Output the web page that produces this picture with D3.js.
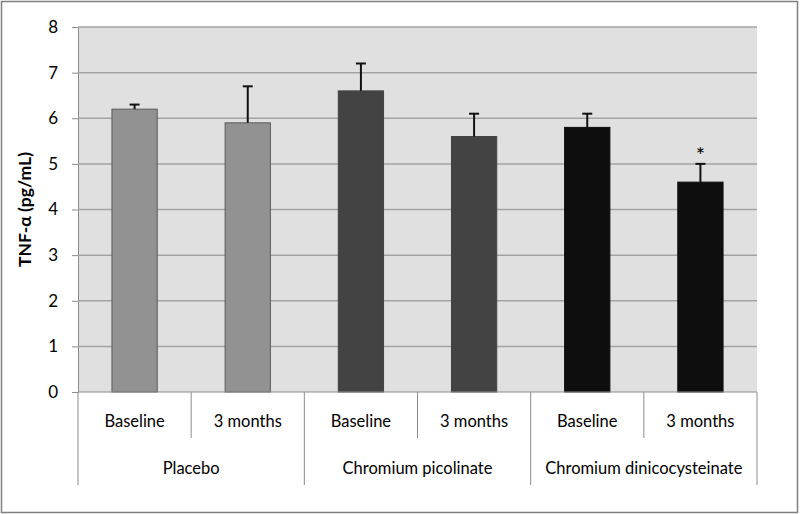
<!DOCTYPE html>
<html><head><meta charset="utf-8">
<script src="https://cdn.jsdelivr.net/npm/d3@7"></script>
<style>body{margin:0;background:#fff}svg{display:block}</style>
</head><body><svg id="c" width="800" height="514"></svg>
<script>
const groups = ["Placebo", "Chromium picolinate", "Chromium dinicocysteinate"];
const subcats = ["Baseline", "3 months"];
const values = [6.2, 5.9, 6.6, 5.6, 5.8, 4.6];
const errors = [0.1, 0.8, 0.6, 0.5, 0.3, 0.4];
const groupColors = ["#929292", "#434343", "#0e0e0e"];
const yTicks = [0, 1, 2, 3, 4, 5, 6, 7, 8];
const marks = ["", "", "", "", "", "*"];

const font = "Lato, 'Open Sans', sans-serif";
const svg = d3.select("#c");
const L = 78, R = 757, T = 27, B = 392;
const items = [];
groups.forEach((g, gi) => subcats.forEach((s, si) => items.push({g, gi, s, i: gi * 2 + si})));

svg.append("rect").attr("x", 1.5).attr("y", 1.5).attr("width", 796).attr("height", 511)
  .attr("fill", "#fff").attr("stroke", "#7f7f7f").attr("stroke-width", 1.5);

const x = d3.scaleBand().domain(items.map(d => d.i)).range([L, R]).paddingInner(0.6).paddingOuter(0.3);
const xs = d3.scaleBand().domain(items.map(d => d.i)).range([L, R]);
const y = d3.scaleLinear().domain([0, 8]).range([B, T]);

svg.append("rect").attr("x", L).attr("y", T).attr("width", R - L).attr("height", B - T).attr("fill", "#e0e0e0");

const ya = svg.append("g").attr("transform", `translate(${L},0)`)
  .call(d3.axisLeft(y).tickValues(yTicks).tickSize(6).tickSizeOuter(0).tickPadding(14));
ya.select(".domain").attr("stroke", "#8c8c8c");
ya.selectAll(".tick line").attr("stroke", "#8c8c8c");
ya.selectAll(".tick text").attr("font-family", font).attr("font-size", 17).attr("fill", "#000");
svg.append("g").selectAll("line").data(yTicks.filter(t => t > 0)).join("line")
  .attr("x1", L).attr("x2", R).attr("y1", d => y(d)).attr("y2", d => y(d))
  .attr("stroke", "#a3a3a3").attr("stroke-width", 1.5);

svg.append("g").selectAll("rect").data(items).join("rect")
  .attr("x", d => x(d.i)).attr("width", x.bandwidth())
  .attr("y", d => y(values[d.i])).attr("height", d => B - y(values[d.i]))
  .attr("fill", d => groupColors[d.gi])
  .attr("stroke", d => d.gi === 0 ? "#5a5a5a" : groupColors[d.gi]).attr("stroke-width", 1);

const eb = svg.append("g").attr("stroke", "#111").attr("stroke-width", 2);
items.forEach(d => {
  const cx = x(d.i) + x.bandwidth() / 2;
  const top = y(values[d.i] + errors[d.i]);
  eb.append("line").attr("x1", cx).attr("x2", cx).attr("y1", y(values[d.i])).attr("y2", top);
  eb.append("line").attr("x1", cx - 5).attr("x2", cx + 5).attr("y1", top).attr("y2", top);
});
svg.append("g").selectAll("text").data(items.filter(d => marks[d.i])).join("text")
  .attr("x", d => x(d.i) + x.bandwidth() / 2).attr("y", d => y(values[d.i] + errors[d.i]) - 1)
  .attr("text-anchor", "middle").attr("font-family", font).attr("font-size", 22).text(d => marks[d.i]);

svg.append("line").attr("x1", L).attr("x2", R).attr("y1", B).attr("y2", B).attr("stroke", "#8c8c8c");

const cat = svg.append("g").attr("stroke", "#8c8c8c");
items.forEach(d => {
  const xl = xs(d.i);
  const isGroup = d.i % 2 === 0;
  cat.append("line").attr("x1", xl).attr("x2", xl).attr("y1", B).attr("y2", isGroup ? 485 : 438);
});
cat.append("line").attr("x1", R).attr("x2", R).attr("y1", B).attr("y2", 485);

svg.append("g").selectAll("text").data(items).join("text")
  .attr("x", d => xs(d.i) + xs.bandwidth() / 2).attr("y", 427)
  .attr("text-anchor", "middle").attr("font-family", font).attr("font-size", 16.5).text(d => d.s);
svg.append("g").selectAll("text").data(groups).join("text")
  .attr("x", (g, gi) => xs(gi * 2) + xs.bandwidth()).attr("y", 474)
  .attr("text-anchor", "middle").attr("font-family", font).attr("font-size", 16.5).text(g => g);

svg.append("text").attr("transform", `translate(31,${(T + B) / 2}) rotate(-90)`)
  .attr("text-anchor", "middle").attr("font-family", font).attr("font-size", 17.5).attr("font-weight", "bold")
  .text("TNF-α (pg/mL)");
</script></body></html>
